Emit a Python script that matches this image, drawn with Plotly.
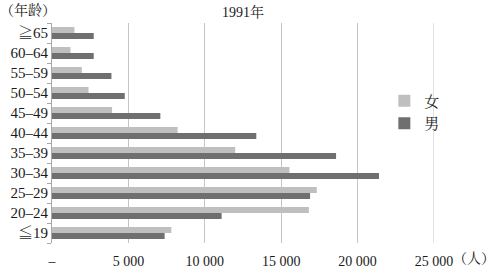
import plotly.graph_objects as go

categories = ["≦19", "20–24", "25–29", "30–34", "35–39", "40–44",
              "45–49", "50–54", "55–59", "60–64", "≧65"]
female = [7810, 16810, 17330, 15540, 11990, 8220, 3930, 2390, 1950, 1210, 1470]
male = [7370, 11100, 16890, 21400, 18590, 13370, 7090, 4760, 3890, 2730, 2730]
tick_vals = [0, 5000, 10000, 15000, 20000, 25000]
tick_text = ["–", "5 000", "10 000", "15 000", "20 000", "25 000"]

serif = "'Liberation Serif', 'Times New Roman', 'Noto Serif CJK SC', 'Noto Sans CJK SC', serif"

fig = go.Figure()
fig.add_trace(go.Bar(y=categories, x=male, orientation="h", name="男",
                     marker=dict(color="#6f6f6f", line=dict(width=0))))
fig.add_trace(go.Bar(y=categories, x=female, orientation="h", name="女",
                     marker=dict(color="#bfbfbf", line=dict(width=0))))

fig.update_layout(
    width=494, height=270,
    margin=dict(l=52, r=60, t=23, b=27, autoexpand=False),
    paper_bgcolor="white", plot_bgcolor="white",
    barmode="group", bargap=0.4, bargroupgap=0,
    font=dict(family=serif, size=14, color="#1a1a1a"),
    showlegend=True,
    legend=dict(x=0.87, y=0.72, xanchor="left", yanchor="top",
                traceorder="reversed", font=dict(size=15, family=serif),
                bgcolor="rgba(0,0,0,0)", itemwidth=30),
    xaxis=dict(range=[0, 25000], tickvals=tick_vals, ticktext=tick_text,
               showgrid=True, gridcolor="#c4c4c4", gridwidth=1,
               zeroline=False, showline=False, automargin=False,
               ticks="outside", ticklen=5, tickcolor="rgba(0,0,0,0)",
               tickfont=dict(size=14, family=serif)),
    yaxis=dict(type="category", showline=True, linecolor="#a8a8a8", linewidth=1,
               ticks="outside", tickson="boundaries", ticklen=4, tickcolor="#a8a8a8",
               showgrid=False, tickfont=dict(size=15, family=serif), automargin=False,
               range=[-0.5, 10.5]),
    shapes=[dict(type="line", xref="x", yref="paper", x0=25000, x1=25000,
                 y0=0, y1=1, line=dict(color="#c4c4c4", width=1))],
    annotations=[
        dict(text="（年龄）", x=0, y=1, xref="paper", yref="paper", showarrow=False,
             xanchor="left", yanchor="top", font=dict(size=14, family=serif),
             xshift=-54, yshift=23),
        dict(text="1991年", x=0.5, y=1, xref="paper", yref="paper", showarrow=False,
             xanchor="center", yanchor="bottom", font=dict(size=14, family=serif),
             yshift=1),
        dict(text="（人）", x=1, y=0, xref="paper", yref="paper", showarrow=False,
             xanchor="left", yanchor="top", font=dict(size=14, family=serif),
             xshift=17, yshift=-6),
    ],
)

fig.write_html("out.html")
